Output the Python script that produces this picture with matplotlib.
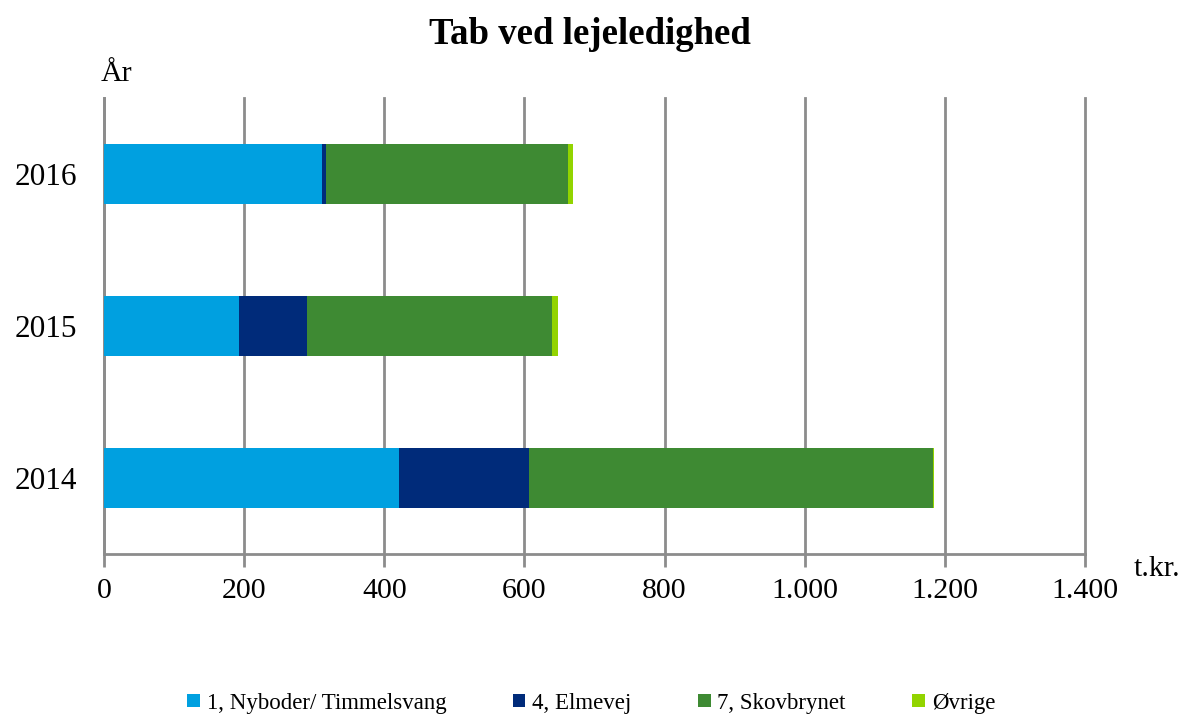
import matplotlib.pyplot as plt

years = ['2014', '2015', '2016']
series_names = ['1, Nyboder/ Timmelsvang', '4, Elmevej', '7, Skovbrynet', 'Øvrige']
nyboder = [421, 192, 311]
elmevej = [185, 98, 6]
skovbrynet = [577, 350, 345]
oevrige = [2, 8, 8]
x_ticks = [0, 200, 400, 600, 800, 1000, 1200, 1400]
x_tick_labels = ['0', '200', '400', '600', '800', '1.000', '1.200', '1.400']

colors = ['#00A0E0', '#002B7A', '#3E8A33', '#92D400']

plt.rcParams['font.family'] = ['Liberation Serif', 'DejaVu Serif']

fig = plt.figure(figsize=(11.86, 7.19), dpi=100)
ax = fig.add_axes([0.0877, 0.2295, 0.8271, 0.6342])

pos = list(range(len(years)))
left = [0] * len(years)
for name, vals, c in zip(series_names, [nyboder, elmevej, skovbrynet, oevrige], colors):
    ax.barh(pos, vals, left=left, height=0.4, color=c, label=name, zorder=3)
    left = [l + v for l, v in zip(left, vals)]

ax.set_xlim(0, 1400)
ax.set_ylim(-0.5, 2.5)
ax.set_xticks(x_ticks)
ax.set_xticklabels(x_tick_labels)
ax.set_yticks(pos)
ax.set_yticklabels(years)

grid_c = '#8C8C8C'
ax.grid(axis='x', color=grid_c, linewidth=2, zorder=0)
for gl in ax.get_xgridlines():
    gl.set_clip_on(False)
for s in ['top', 'right']:
    ax.spines[s].set_visible(False)
for s in ['left', 'bottom']:
    ax.spines[s].set_color(grid_c)
    ax.spines[s].set_linewidth(2)
ax.tick_params(axis='x', length=9, width=2, color=grid_c, labelsize=21.5, pad=8)
ax.tick_params(axis='y', length=0, labelsize=22.5, pad=19)

fig.text(0.497, 0.952, 'Tab ved lejeledighed', ha='center', va='center',
         fontsize=26.5, fontweight='bold')
fig.text(0.0845, 0.897, 'År', ha='left', va='center', fontsize=21.5)
fig.text(0.956, 0.208, 't.kr.', ha='left', va='center', fontsize=21.5)

fig.legend(loc='center', bbox_to_anchor=(0.4985, 0.022), ncol=4, frameon=False,
           fontsize=16.5, handlelength=0.55, handleheight=0.55, handletextpad=0.3,
           columnspacing=2.9)

fig.savefig('out.png', dpi=100)
